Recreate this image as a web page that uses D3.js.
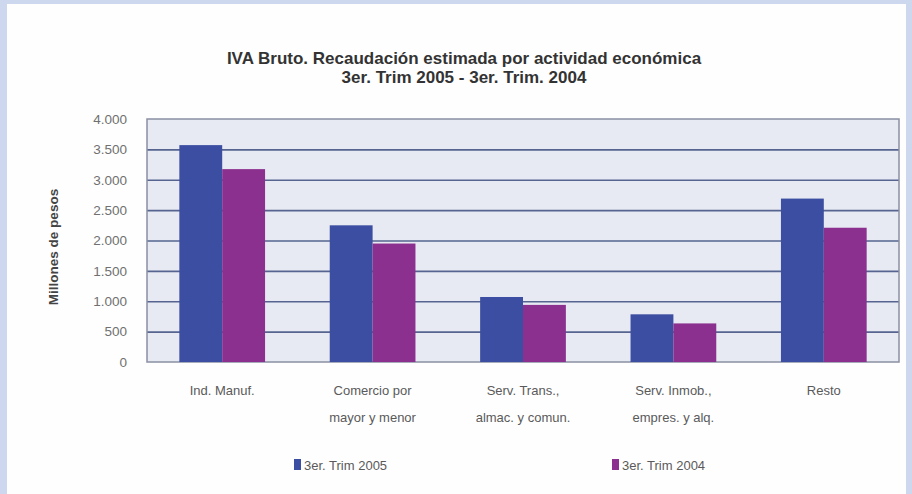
<!DOCTYPE html>
<html><head><meta charset="utf-8">
<script src="https://cdn.jsdelivr.net/npm/d3@7"></script>
<style>
html,body{margin:0;padding:0;background:#cdd7ee;}
svg{display:block;font-family:"Liberation Sans",Arial,sans-serif;}
</style></head>
<body><svg id="c" width="912" height="494"></svg>
<script>
const categories = [["Ind. Manuf."],["Comercio por","mayor y menor"],["Serv. Trans.,","almac. y comun."],["Serv. Inmob.,","empres. y alq."],["Resto"]];
const series2005 = [3570, 2250, 1070, 785, 2690];
const series2004 = [3175, 1950, 940, 635, 2210];
const seriesNames = ["3er. Trim 2005", "3er. Trim 2004"];
const yTicks = [0, 500, 1000, 1500, 2000, 2500, 3000, 3500, 4000];
const titleLines = ["IVA Bruto. Recaudación estimada por actividad económica", "3er. Trim 2005 - 3er. Trim. 2004"];
const yTitle = "Millones de pesos";
const colors = ["#3c4ea1", "#8b308f"];

const svg = d3.select("#c");
svg.append("rect").attr("x", 7).attr("y", 4).attr("width", 899).attr("height", 494).attr("fill", "#fefefe");

const L = 147, R = 899, T = 119, B = 362;
const x = d3.scaleBand().domain(d3.range(categories.length)).range([L, R]).paddingInner(0.43).paddingOuter(0.215);
const xs = d3.scaleBand().domain([0, 1]).range([0, x.bandwidth()]);
const y = d3.scaleLinear().domain([0, 4000]).range([B, T]);

svg.append("rect").attr("x", L).attr("y", T).attr("width", R - L).attr("height", B - T).attr("fill", "#e7eaf3");

const ga = svg.append("g").attr("transform", `translate(${L},0)`)
  .call(d3.axisLeft(y).tickValues(yTicks).tickSize(-(R - L)).tickFormat(d => d3.format(",")(d).replace(/,/g, ".")));
ga.select(".domain").remove();
ga.selectAll(".tick line").attr("stroke", "#56648f").attr("stroke-width", 1.6).filter(d => d === 0 || d === 4000).remove();
ga.selectAll(".tick text").attr("x", -20).attr("fill", "#707070").attr("font-size", 13.5);

svg.append("rect").attr("x", L).attr("y", T).attr("width", R - L).attr("height", B - T)
  .attr("fill", "none").attr("stroke", "#8b90a2").attr("stroke-width", 1.5);

const data = categories.map((c, i) => [series2005[i], series2004[i]]);
const g = svg.append("g");
data.forEach((vals, i) => {
  g.selectAll(null).data(vals).join("rect")
    .attr("x", (d, j) => x(i) + xs(j))
    .attr("y", d => y(d))
    .attr("width", xs.bandwidth())
    .attr("height", d => B - y(d))
    .attr("fill", (d, j) => colors[j]);
});

// x labels
categories.forEach((lines, i) => {
  const t = svg.append("text").attr("text-anchor", "middle").attr("fill", "#5a5a5a").attr("font-size", 13);
  lines.forEach((ln, k) => t.append("tspan").attr("x", x(i) + x.bandwidth() / 2).attr("y", 395 + k * 27).text(ln));
});

// title
const tt = svg.append("text").attr("text-anchor", "middle").attr("fill", "#333").attr("font-size", 17).attr("font-weight", "bold");
titleLines.forEach((ln, k) => tt.append("tspan").attr("x", 464).attr("y", 64 + k * 19).text(ln));

// y title
svg.append("text").attr("transform", "translate(58,247) rotate(-90)").attr("text-anchor", "middle")
  .attr("fill", "#444").attr("font-size", 13.5).attr("font-weight", "bold").text(yTitle);

// legend
const legX = [294, 612];
seriesNames.forEach((n, j) => {
  svg.append("rect").attr("x", legX[j]).attr("y", 459).attr("width", 7).attr("height", 11).attr("fill", colors[j]);
  svg.append("text").attr("x", legX[j] + 10).attr("y", 470).attr("fill", "#5a5a5a").attr("font-size", 13).text(n);
});
</script></body></html>
